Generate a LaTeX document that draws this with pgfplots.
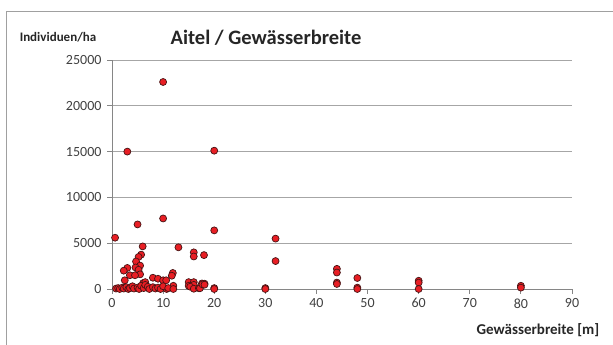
\documentclass[border=0pt]{standalone}
\usepackage{pgfplots}
\pgfplotsset{compat=1.18}
\usepackage{fontspec}
\setmainfont{Carlito}
\definecolor{dotred}{RGB}{232,30,36}
\definecolor{dotedge}{RGB}{70,20,20}
\definecolor{axgray}{RGB}{134,134,134}
\definecolor{gridgray}{RGB}{166,166,166}
\definecolor{txt}{RGB}{64,64,64}
\definecolor{frame}{RGB}{160,160,160}

\pgfplotstableread{
x y
10 22600
3 15000
20 15100
10 7700
5 7050
20 6400
0.6 5600
32 5500
32 3050
13 4550
6 4650
16 4000
16 3550
18 3700
5.7 3750
5.2 3500
4.7 3000
5.5 2550
4.6 2350
3 2300
2.3 2000
5.2 2100
5.5 1600
3.5 1500
4.5 1500
11.9 1750
11.7 1450
2.5 950
8 1230
9 1120
10 950
10.6 950
6.1 650
6.5 750
12 350
15 750
15 350
16 750
16 450
17.6 600
18.1 580
15.3 250
16 30
17 80
17.2 80
17.7 500
18.1 470
20 100
20 0
30 100
30 0
44 2200
44 1800
44 700
44 550
48 1200
48 150
48 0
60 900
60 700
60 0
80 350
80 150
10.7 0
0.8 50
1.2 100
1.5 0
2 150
2.3 50
2.8 200
3.2 0
3.5 100
4 300
4.3 50
5 150
5.3 0
5.7 350
6.2 100
6.5 450
7 250
7.3 0
8 200
8.5 50
9 150
9.5 0
10 300
11 100
12 0
}\aitel

\begin{document}
\begin{tikzpicture}
\path[use as bounding box] (0,0) rectangle (613pt,345pt);
\draw[frame, line width=0.8pt] (6pt,0) -- (6pt,334pt) -- (613pt,334pt);
\begin{axis}[
  at={(112pt,56pt)}, anchor=south west,
  scale only axis, width=460pt, height=229pt,
  xmin=0, xmax=90, ymin=0, ymax=25000,
  xtick={0,10,...,90}, ytick={0,5000,...,25000},
  axis x line*=bottom, axis y line*=left,
  axis line style={axgray, line width=0.8pt},
  every tick/.style={axgray, line width=0.8pt},
  tick align=outside, major tick length=5pt,
  ymajorgrids, grid style={gridgray, line width=0.8pt},
  scaled y ticks=false,
  /pgf/number format/.cd, set thousands separator={}, assume math mode=true,
  /pgfplots/.cd,
  tick label style={font=\fontsize{14}{16}\selectfont, text=txt},
  xticklabel style={yshift=-1pt},
  yticklabel style={xshift=-2pt},
  clip=false,
]
\addplot[only marks, mark=*, mark size=3.5pt,
  mark options={fill=dotred, draw=dotedge, line width=0.7pt}]
  table[x=x, y=y] {\aitel};
\end{axis}
\node[font=\bfseries\fontsize{20.5}{24}\selectfont, text=black!85] at (266pt,307pt) {Aitel / Gewässerbreite};
\node[font=\bfseries\fontsize{13}{15}\selectfont, text=black!85] at (58pt,308pt) {Individuen/ha};
\node[font=\bfseries\fontsize{15}{18}\selectfont, text=black!85] at (538pt,15pt) {Gewässerbreite [m]};
\end{tikzpicture}
\end{document}
